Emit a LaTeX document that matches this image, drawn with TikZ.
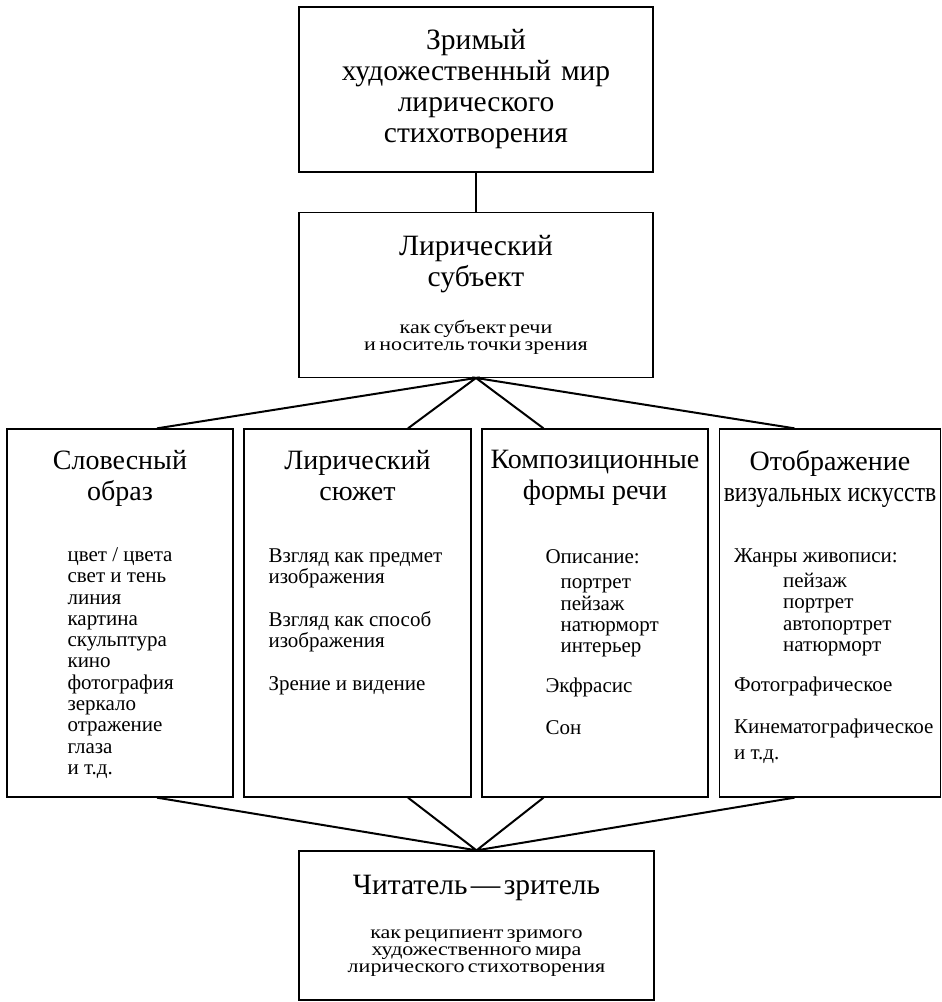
\documentclass[tikz,border=0pt]{standalone}
\usepackage{fontspec}
\setmainfont{Liberation Serif}
\newfontfamily\notefont[FakeStretch=1.19]{Liberation Serif}
\usetikzlibrary{positioning}
\tikzset{
  box/.style={draw, line width=1.3pt, inner sep=0pt},
  link/.style={line width=2pt},
  head/.style={anchor=north, inner sep=0pt, align=center, font=\headsize},
  items/.style={anchor=north west, inner sep=0pt, align=left, font=\listsize},
}
\newcommand{\titlesize}{\fontsize{29.5}{31}\selectfont}
\newcommand{\headsize}{\fontsize{28}{30.5}\selectfont}
\newcommand{\listsize}{\fontsize{21}{21.3}\selectfont}
\newcommand{\notesize}{\notefont\fontsize{18.5}{17}\selectfont}

\begin{document}
\begin{tikzpicture}[x=1pt, y=-1pt]
  \useasboundingbox (0,0) rectangle (942,1002);

  \node[box, minimum width=354pt, minimum height=165pt, text width=340pt, align=center, font=\titlesize] (world) at (476,89.5) {Зримый\\художественный мир\\лирического\\стихотворения\par};
  \node[box, minimum width=354pt, minimum height=165pt, text width=340pt, align=center, below=39pt of world] (subj) {\titlesize Лирический\\субъект\par\notesize\vspace{26pt}как субъект речи\\и носитель точки зрения\par};

  % four columns
  \node[box, minimum width=226pt, minimum height=368pt] (word) at (120,613) {};
  \node[box, minimum width=227pt, minimum height=368pt] (plot) at (357.5,613) {};
  \node[box, minimum width=226pt, minimum height=368pt] (forms) at (595,613) {};
  \node[box, minimum width=221pt, minimum height=368pt] (arts) at (830,613) {};

  \node[head] (wordh) at ([yshift=-22pt]word.north) {Словесный\\образ};
  \node[head] (ploth) at ([yshift=-22pt]plot.north) {Лирический\\сюжет};
  \node[head] (formsh) at ([yshift=-22pt]forms.north) {Композиционные\\формы речи};
  \node[head] (artsh) at ([yshift=-22pt]arts.north) {Отображение\\\scalebox{0.845}[1]{визуальных искусств}};

  \node[items] (wordl) at ([xshift=61pt, yshift=-119pt]word.north west) {цвет / цвета\\свет и тень\\линия\\картина\\скульптура\\кино\\фотография\\зеркало\\отражение\\глаза\\и т.д.};
  \node[items] (plotl) at ([xshift=25pt, yshift=-120pt]plot.north west) {Взгляд как предмет\\изображения\\[21.3pt]Взгляд как способ\\изображения\\[21.3pt]Зрение и видение};
  \node[items] (formsl) at ([xshift=64pt, yshift=-121pt]forms.north west) {Описание:\\[4pt]\hspace*{15pt}портрет\\\hspace*{15pt}пейзаж\\\hspace*{15pt}натюрморт\\\hspace*{15pt}интерьер\\[18.5pt]Экфрасис\\[20.5pt]Сон};
  \node[items] (artsl) at ([xshift=15pt, yshift=-120pt]arts.north west) {Жанры живописи:\\[4pt]\hspace*{49pt}пейзаж\\\hspace*{49pt}портрет\\\hspace*{49pt}автопортрет\\\hspace*{49pt}натюрморт\\[18.5pt]Фотографическое\\[20.5pt]Кинематографическое\\[5.5pt]и т.д.};

  \node[box, minimum width=355pt, minimum height=149pt, text width=340pt, align=center] (reader) at (476.5,925.5) {\titlesize Читатель — зритель\par\notesize\vspace{27pt}как реципиент зримого\\художественного мира\\лирического стихотворения\par};

  \draw[link] (world) -- (subj);
  \draw[link] ([xshift=37pt]word.north) -- (subj.south) -- ([xshift=50.5pt]plot.north);
  \draw[link] ([xshift=-51.5pt]forms.north) -- (subj.south) -- ([xshift=-35.5pt]arts.north);
  \draw[link] ([xshift=37pt]word.south) -- (reader.north) -- ([xshift=50.5pt]plot.south);
  \draw[link] ([xshift=-51.5pt]forms.south) -- (reader.north) -- ([xshift=-35.5pt]arts.south);
\end{tikzpicture}
\end{document}
